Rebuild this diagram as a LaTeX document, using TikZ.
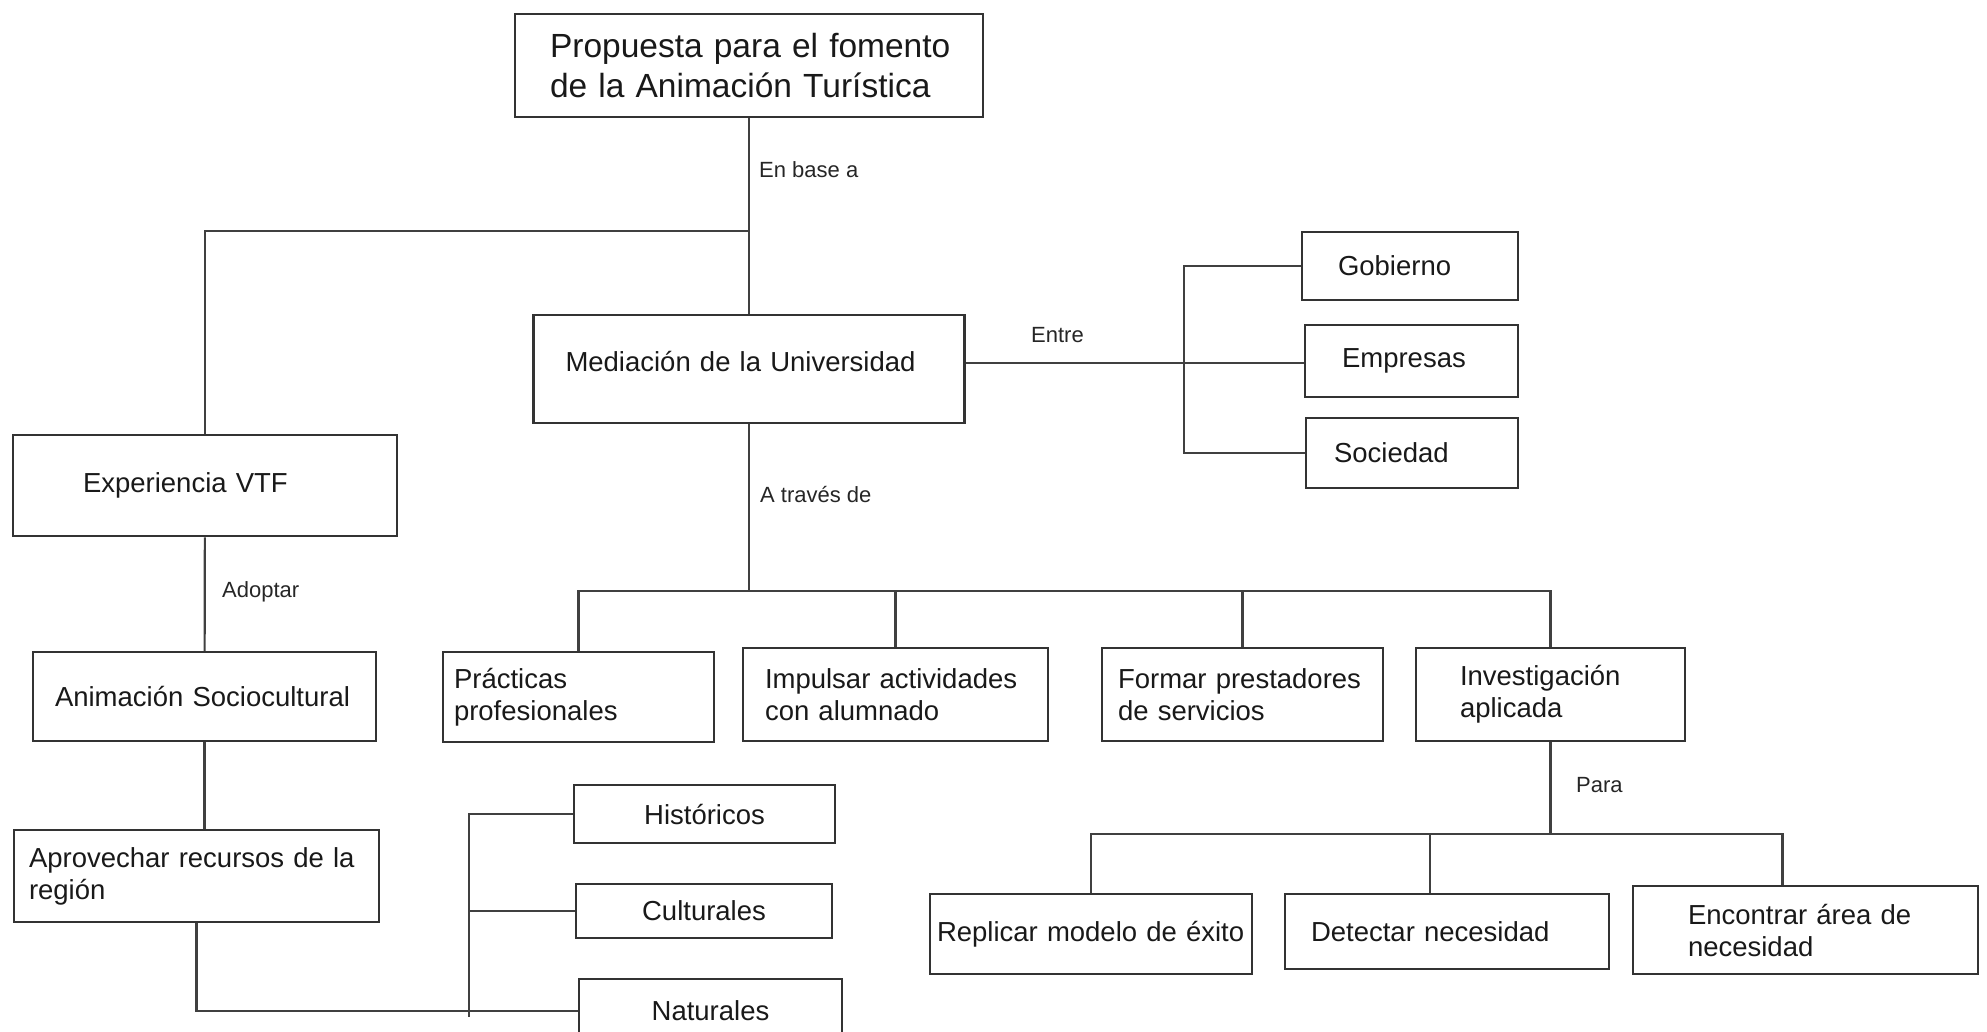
\documentclass[tikz,border=0pt]{standalone}
\usepackage{fontspec}
\setmainfont{Liberation Sans}

\begin{document}
\begin{tikzpicture}[x=1pt,y=-1pt,
   kasten/.style={draw=black!80, line width=2.5pt, align=left, text=black!90,
      inner ysep=0pt, font=\fontsize{27.5}{32}\selectfont},
   mitte/.style={kasten, align=center},
   linie/.style={draw=black!75, line width=2.2pt},
   marke/.style={anchor=west, inner sep=0pt, text=black!85,
      font=\fontsize{22}{26}\selectfont}]
   \useasboundingbox (0,0) rectangle (1987,1031);
   \clip (0,0) rectangle (1987,1031);

   %% Oben
   \node[kasten, text width=414pt, inner xsep=27pt, minimum height=103pt,
      font=\fontsize{33.5}{40}\selectfont] (prop) at (749,65.5)
      {\hspace*{8pt}Propuesta para el fomento\\\hspace*{8pt}de la Animación Turística};
   \node[kasten, text width=367pt, inner xsep=32pt, minimum height=108pt, text depth=16pt] (med) at (749,369)
      {Mediación de la Universidad};

   %% Akteure
   \node[kasten, text width=144pt, inner xsep=36pt, minimum height=68pt] (gob) at (1410,266) {Gobierno};
   \node[kasten, text width=139pt, inner xsep=37pt, minimum height=72pt] (emp) at (1411.5,361) {Empresas};
   \node[kasten, text width=156pt, inner xsep=28pt, minimum height=70pt] (soc) at (1412,453) {Sociedad};

   %% Links
   \node[kasten, text width=244pt, inner xsep=70pt, minimum height=101pt] (exp) at (205,485.5) {Experiencia VTF};
   \node[kasten, text width=299pt, inner xsep=22pt, minimum height=89pt] (anim) at (204.5,696.5) {Animación Sociocultural};
   \node[kasten, text width=335pt, inner xsep=15pt, minimum height=92pt] (aprov) at (196.5,876)
      {Aprovechar recursos de la\\región};

   %% Recursos
   \node[mitte, minimum width=261pt, minimum height=58pt] (hist) at (704.5,814) {Históricos};
   \node[mitte, minimum width=256pt, minimum height=54pt] (cult) at (704,911) {Culturales};
   \node[mitte, minimum width=263pt, minimum height=64pt] (nat) at (710.5,1011) {Naturales};

   %% Mitte
   \node[kasten, text width=249pt, inner xsep=11pt, minimum height=90pt] (prac) at (578.5,697)
      {Prácticas\\profesionales};
   \node[kasten, text width=261pt, inner xsep=22pt, minimum height=93pt] (imp) at (895.5,694.5)
      {Impulsar actividades\\con alumnado};
   \node[kasten, text width=249pt, inner xsep=16pt, minimum height=93pt] (form) at (1242.5,694.5)
      {Formar prestadores\\de servicios};
   \node[kasten, text width=181pt, inner xsep=44pt, minimum height=93pt] (inv) at (1550.5,694.5)
      {Investigación\\aplicada};

   %% Unten rechts
   \node[kasten, text width=308pt, inner xsep=7pt, minimum height=80pt] (repl) at (1091,934)
      {Replicar modelo de éxito};
   \node[kasten, text width=272pt, inner xsep=26pt, minimum height=75pt] (det) at (1447,931.5)
      {Detectar necesidad};
   \node[kasten, text width=235pt, inner xsep=55pt, minimum height=88pt] (enc) at (1805.5,930)
      {Encontrar área de\\necesidad};

   %% Verbindungen
   \coordinate (j1) at (749,231);
   \draw[linie] (prop) -- (med);
   \draw[linie] (j1) -| (exp.north);
   \node[marke] (lbase) at (759,170) {En base a};

   \coordinate (j2) at (749,591);
   \draw[linie] (med) -- (j2);
   \draw[linie] (prac.north) |- (inv.north |- j2) -- (inv.north);
   \draw[linie] (imp.north) -- (imp.north |- j2);
   \draw[linie] (form.north) -- (form.north |- j2);
   \node[marke] (ltraves) at (760,495) {A través de};

   \coordinate (j3) at (1184,363);
   \draw[linie] (med.east |- j3) -- (emp.west |- j3);
   \draw[linie] (gob.west) -| (j3) |- (soc.west);
   \node[marke] (lentre) at (1031,335) {Entre};

   \draw[linie] (exp) -- (anim);
   \draw[linie] (anim.south) -- (anim.south |- aprov.north);
   \node[marke] (ladopt) at (222,592) {Adoptar};

   \coordinate (j4) at (469,1017);
   \draw[linie] (aprov.south) |- (nat.west);
   \draw[linie] (hist.west) -| (j4);
   \draw[linie] (cult.west) -- (cult.west -| j4);

   \coordinate (j5) at (1559,834);
   \coordinate (detTop) at ([xshift=-17pt]det.north);
   \coordinate (encTop) at ([xshift=-23pt]enc.north);
   \draw[linie] (inv.south) -- (inv.south |- j5);
   \draw[linie] (repl.north) |- (encTop |- j5) -- (encTop);
   \draw[linie] (detTop) -- (detTop |- j5);
   \node[marke] (lpara) at (1576,785) {Para};
\end{tikzpicture}
\end{document}
